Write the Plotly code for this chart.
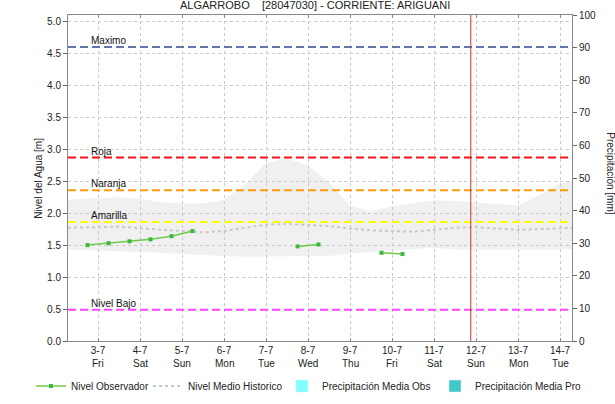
import plotly.graph_objects as go

# nivel observado (m), cada 12 h
obs_time = ["2020-07-02 18:00", "2020-07-03 06:00", "2020-07-03 18:00", "2020-07-04 06:00",
            "2020-07-04 18:00", "2020-07-05 06:00", "2020-07-06 12:00", "2020-07-07 18:00",
            "2020-07-08 06:00", "2020-07-09 00:00", "2020-07-09 18:00", "2020-07-10 06:00"]
obs_level = [1.50, 1.53, 1.56, 1.59, 1.64, 1.72, None, 1.48, 1.51, None, 1.38, 1.36]

# historico: media, maximo y minimo (m)
hist_time = ["2020-07-%02d %s" % (d, h) for d in range(2, 15) for h in ("00:00", "12:00")]
hist_mean = [1.77, 1.77, 1.78, 1.79, 1.76, 1.74, 1.72, 1.70, 1.72, 1.77, 1.82, 1.83, 1.82,
             1.80, 1.76, 1.73, 1.72, 1.71, 1.74, 1.77, 1.78, 1.76, 1.74, 1.75, 1.77, 1.78]
hist_max = [2.20, 2.22, 2.24, 2.25, 2.22, 2.17, 2.15, 2.15, 2.21, 2.45, 2.78, 2.86, 2.74,
            2.48, 2.12, 2.03, 2.11, 2.15, 2.20, 2.19, 2.17, 2.14, 2.12, 2.28, 2.46, 2.55]
hist_min = [1.44, 1.43, 1.42, 1.41, 1.40, 1.38, 1.36, 1.34, 1.33, 1.32, 1.32, 1.32, 1.32,
            1.33, 1.37, 1.40, 1.42, 1.44, 1.46, 1.43, 1.43, 1.43, 1.43, 1.43, 1.43, 1.43]

# umbrales
thr_names = ["Maximo", "Roja", "Naranja", "Amarilla", "Nivel Bajo"]
thr_values = [4.60, 2.87, 2.36, 1.86, 0.49]
thr_colors = ["#6474ad", "#ff1010", "#ff9a10", "#ffff00", "#ff44ff"]

now_time = "2020-07-11 21:00"

tick_days = ["2020-07-%02d" % d for d in range(3, 15)]
tick_dates = ["3-7", "4-7", "5-7", "6-7", "7-7", "8-7", "9-7", "10-7", "11-7", "12-7", "13-7", "14-7"]
tick_weekdays = ["Fri", "Sat", "Sun", "Mon", "Tue", "Wed", "Thu", "Fri", "Sat", "Sun", "Mon", "Tue"]

fig = go.Figure()

fig.add_trace(go.Scatter(x=hist_time, y=hist_max, mode="lines", line=dict(width=0),
                         showlegend=False, hoverinfo="skip"))
fig.add_trace(go.Scatter(x=hist_time, y=hist_min, mode="lines", line=dict(width=0),
                         fill="tonexty", fillcolor="rgba(200,200,200,0.28)",
                         showlegend=False, hoverinfo="skip"))
fig.add_trace(go.Scatter(x=hist_time, y=hist_mean, mode="lines", name="Nivel Medio Historico",
                         line=dict(color="#c8c8c8", width=2, dash="dot"), legend="legend2"))
fig.add_trace(go.Scatter(x=obs_time, y=obs_level, mode="lines+markers", name="Nivel Observador",
                         line=dict(color="#6ccc4a", width=1.5),
                         marker=dict(color="#3cb83c", size=4, symbol="square"), legend="legend"))
fig.add_trace(go.Bar(x=[None], y=[None], name="Precipitación Media Obs",
                     marker_color="#80ffff", yaxis="y2", legend="legend3"))
fig.add_trace(go.Bar(x=[None], y=[None], name="Precipitación Media Pro",
                     marker_color="#40c8c8", yaxis="y2", legend="legend4"))

for name, val, col in zip(thr_names, thr_values, thr_colors):
    fig.add_shape(type="line", xref="paper", x0=0, x1=1, yref="y", y0=val, y1=val,
                  line=dict(color=col, width=2, dash="8px,4px"))
    fig.add_annotation(xref="paper", x=0.042, yref="y", y=val, text=name, showarrow=False,
                       xanchor="left", yanchor="bottom", yshift=-1,
                       font=dict(size=10, color="#111111"))

fig.add_shape(type="line", xref="x", x0=now_time, x1=now_time, yref="paper", y0=0, y1=1,
              line=dict(color="#d03030", width=1))

for d, wd in zip(tick_days, tick_weekdays):
    fig.add_annotation(xref="x", x=d, yref="paper", y=0, yshift=-15, yanchor="top",
                       text=wd, showarrow=False, font=dict(size=10, color="#222222"))

fig.add_annotation(xref="paper", yref="paper", x=-0.0575, y=0.498, text="Nivel del Agua [m]",
                   textangle=-90, showarrow=False, xanchor="center",
                   font=dict(size=10, color="#222222"))
fig.add_annotation(xref="paper", yref="paper", x=1.077, y=0.515, text="Precipitación [mm]",
                   textangle=90, showarrow=False, xanchor="center",
                   font=dict(size=10, color="#222222"))
fig.add_annotation(xref="paper", yref="paper", x=0.49, y=1.0306, yanchor="middle",
                   xanchor="center", text="ALGARROBO    [28047030] - CORRIENTE: ARIGUANI",
                   showarrow=False, font=dict(size=11, color="#222222"))

grid = dict(showgrid=True, gridcolor="#c8c8c8", griddash="dot", gridwidth=1)
leg = dict(orientation="h", yref="container", y=0.0446, yanchor="middle", xanchor="left",
           font=dict(size=10), itemwidth=30, bgcolor="rgba(0,0,0,0)")

fig.update_layout(
    width=615, height=404,
    margin=dict(l=68, r=43, t=15, b=63),
    paper_bgcolor="white", plot_bgcolor="white",
    font=dict(family="Liberation Sans, Arial, sans-serif", size=10, color="#222222"),
    xaxis=dict(type="date", range=["2020-07-02 06:51", "2020-07-14 06:51"],
               tickvals=tick_days, ticktext=tick_dates, ticks="inside", ticklen=3,
               tickcolor="#888888", showline=True, linecolor="#888888", mirror="ticks",
               zeroline=False, automargin=False, **grid),
    yaxis=dict(range=[0, 5.1], tickvals=[i * 0.5 for i in range(11)], tickformat=".1f",
               ticks="outside", ticklen=4, tickcolor="#666666", showline=True,
               linecolor="#888888", zeroline=False, automargin=False, **grid),
    yaxis2=dict(range=[0, 100], tickvals=list(range(0, 101, 10)), overlaying="y", side="right",
                ticks="outside", ticklen=4, tickcolor="#666666", showline=True,
                linecolor="#888888", showgrid=False, zeroline=False, automargin=False),
    legend=dict(leg, x=-0.0734),
    legend2=dict(leg, x=0.1588),
    legend3=dict(leg, x=0.4246),
    legend4=dict(leg, x=0.7282),
    barmode="overlay",
)

# the page body has a default 8px margin; drop it so the figure sits at the window origin
fig.write_html("out.html", config={"displayModeBar": False},
               post_script="document.body.style.margin='0';")
